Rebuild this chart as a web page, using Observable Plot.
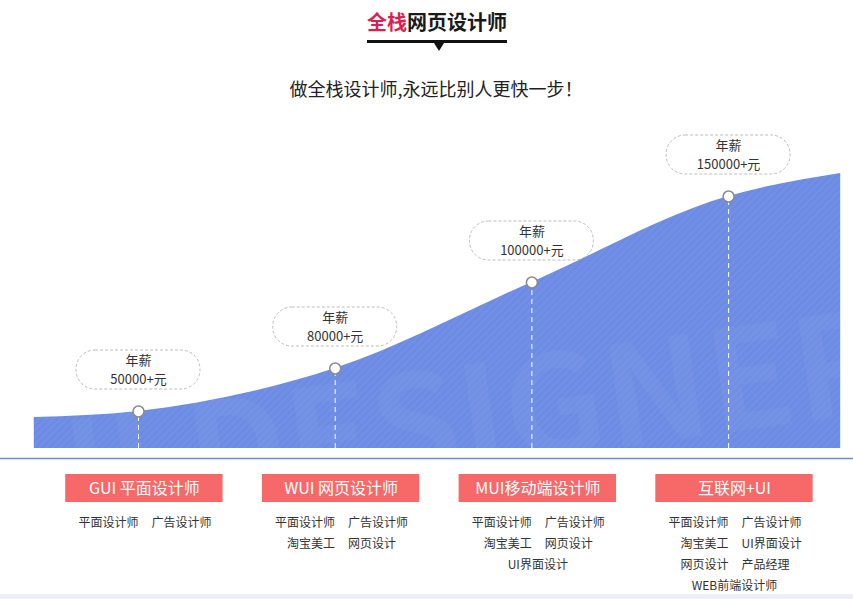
<!DOCTYPE html>
<html>
<head>
<meta charset="utf-8">
<script src="https://cdn.jsdelivr.net/npm/d3@7"></script>
<script src="https://cdn.jsdelivr.net/npm/@observablehq/plot@0.6"></script>
<style>
  html, body { margin: 0; padding: 0; background: #fff; }
  body { width: 853px; height: 599px; position: relative; overflow: hidden;
         font-family: "Noto Sans CJK SC", "Noto Sans", sans-serif; }
  .abs { position: absolute; }
</style>
</head>
<body>
<div class="abs" style="left:287px;width:300px;top:8px;text-align:center;font-weight:bold;font-size:20px;line-height:28px;">
  <span style="color:#dc1f4f">全栈</span><span style="color:#1a1a1a">网页设计师</span>
</div>
<div class="abs" style="left:367px;top:40px;width:140px;height:3px;background:#111;"></div>
<div class="abs" style="left:434px;top:43px;width:0;height:0;border-left:5px solid transparent;border-right:5px solid transparent;border-top:8px solid #111;"></div>
<div class="abs" style="left:186px;width:500px;top:75px;text-align:center;font-size:18px;line-height:26px;color:#222;">做全栈设计师,永远比别人更快一步！</div>
<div id="chart" class="abs" style="left:0;top:110px;"></div>
<div class="abs" style="left:0;top:594px;width:853px;height:5px;background:#edf1f7;"></div>
<script>
// ---- data ----
const stages = [0, 1, 2, 3];
const salaries = [50000, 80000, 100000, 150000];
const pointLevels = [37, 80, 166, 252];
const curveStages = [-0.53, 0, 1, 2, 3, 3.57];
const curveLevels = [31, 37, 80, 166, 252, 275];
const roles = ["GUI 平面设计师", "WUI 网页设计师", "MUI移动端设计师", "互联网+UI"];
const jobs = [
  [["平面设计师", "广告设计师"]],
  [["平面设计师", "广告设计师"], ["淘宝美工", "网页设计"]],
  [["平面设计师", "广告设计师"], ["淘宝美工", "网页设计"], ["UI界面设计"]],
  [["平面设计师", "广告设计师"], ["淘宝美工", "UI界面设计"], ["网页设计", "产品经理"], ["WEB前端设计师"]]
];

// ---- tables built from the arrays ----
const curve = curveStages.map((s, i) => ({stage: s, level: curveLevels[i]}));
const points = stages.map((s, i) => ({stage: s, level: pointLevels[i], salary: salaries[i], role: roles[i]}));
const items = [];
jobs.forEach((rows, i) => rows.forEach((row, r) => {
  if (row.length === 1) items.push({stage: stages[i], row: r, text: row[0], col: "C"});
  else { items.push({stage: stages[i], row: r, text: row[0], col: "L"});
         items.push({stage: stages[i], row: r, text: row[1], col: "R"}); }
}));

const FONT = '"Noto Sans CJK SC", "Noto Sans", sans-serif';
const boxShift = 0.03;   // category boxes sit slightly right of points
const rowY = r => -75 - 21 * r;

const plot = Plot.plot({
  width: 853,
  height: 489,
  margin: 0,
  x: {domain: [-0.7016, 3.635], axis: null},
  y: {domain: [-151, 338], axis: null},
  style: {fontFamily: FONT, overflow: "visible", background: "transparent"},
  marks: [
    Plot.areaY(curve, {x: "stage", y: "level", fill: "url(#stripes)", curve: "monotone-x"}),
    Plot.text(["UI DESIGNER"], {frameAnchor: "top-left", dx: 440, dy: 262, rotate: -8,
      fontSize: 140, fontWeight: "bold", fill: "white", fillOpacity: 0.035, textAnchor: "middle"}),
    Plot.ruleY([-10], {stroke: "#7189d6", strokeWidth: 1.5}),
    Plot.ruleX(points, {x: "stage", y1: 0, y2: "level", stroke: "white", strokeDasharray: "5,4", strokeWidth: 1}),
    Plot.dot(points, {x: "stage", y: "level", r: 5.5, fill: "white", stroke: "#8a8a8a", strokeWidth: 1.5}),
    Plot.rect(points, {x1: d => d.stage - 0.315, x2: d => d.stage + 0.315,
      y1: d => d.level + 22, y2: d => d.level + 61, rx: 19,
      fill: "none", stroke: "#bdbdbd", strokeDasharray: "3,2", strokeWidth: 1}),
    Plot.text(points, {x: "stage", y: d => d.level + 51, text: () => "年薪",
      fontSize: 13, fill: "#333"}),
    Plot.text(points, {x: "stage", y: d => d.level + 32, text: d => `${d.salary}+元`,
      fontSize: 13, fill: "#333"}),
    Plot.rect(points, {x1: d => d.stage + boxShift - 0.4, x2: d => d.stage + boxShift + 0.4,
      y1: -26, y2: -54, fill: "#f76868"}),
    Plot.text(points, {x: d => d.stage + boxShift, y: -40, text: "role", fill: "white", fontSize: 16}),
    Plot.text(items.filter(d => d.col === "L"), {x: d => d.stage + boxShift, y: d => rowY(d.row),
      text: "text", textAnchor: "end", dx: -6, fontSize: 12, fill: "#333"}),
    Plot.text(items.filter(d => d.col === "R"), {x: d => d.stage + boxShift, y: d => rowY(d.row),
      text: "text", textAnchor: "start", dx: 7, fontSize: 12, fill: "#333"}),
    Plot.text(items.filter(d => d.col === "C"), {x: d => d.stage + boxShift, y: d => rowY(d.row),
      text: "text", textAnchor: "middle", fontSize: 12, fill: "#333"})
  ]
});

// stripe pattern for the area fill
const defs = d3.select(plot).insert("defs", ":first-child");
const pat = defs.append("pattern").attr("id", "stripes").attr("patternUnits", "userSpaceOnUse")
  .attr("width", 5).attr("height", 5).attr("patternTransform", "rotate(45)");
pat.append("rect").attr("width", 5).attr("height", 5).attr("fill", "#6c8be3");
pat.append("line").attr("x1", 1).attr("y1", 0).attr("x2", 1).attr("y2", 5)
  .attr("stroke", "#7592e8").attr("stroke-width", 1.5);

document.getElementById("chart").appendChild(plot);
</script>
</body>
</html>
